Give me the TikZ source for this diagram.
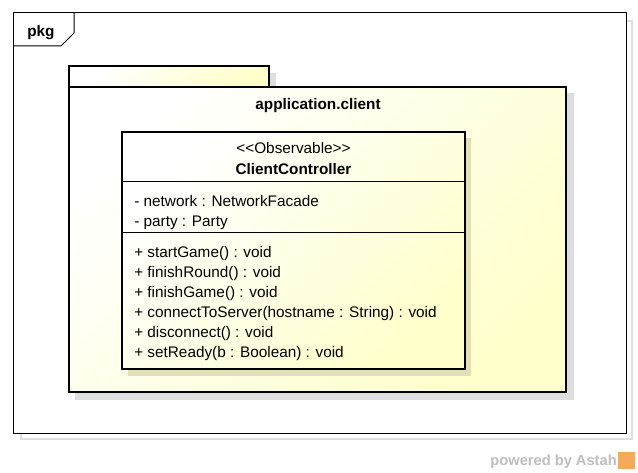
\documentclass[tikz,border=0pt]{standalone}
\usepackage{fontspec}
\setmainfont{Liberation Sans}
\begin{document}
\begin{tikzpicture}[x=0.75pt,y=-0.75pt,
  ylwshade/.style={top color=white, bottom color=ylw, shading angle=45},
  pkgline/.style={draw=black, line width=2.2pt},
  shadow/.style={fill=shadowgray, draw=none},
  txt/.style={font=\fontsize{11.5pt}{13pt}\selectfont, inner sep=0pt, anchor=base west},
  ttl/.style={font=\bfseries\fontsize{11.5pt}{13pt}\selectfont, inner sep=0pt, anchor=base}]
\definecolor{ylw}{RGB}{255,255,204}
\definecolor{shadowgray}{RGB}{222,222,222}
\definecolor{astahgray}{RGB}{190,190,190}
\definecolor{astahorange}{RGB}{245,170,90}
\useasboundingbox (0,0) rectangle (638,473);
\fill[white] (0,0) rectangle (638,473);
% frame
\draw[shadowgray, line width=0.9pt] (21,21) rectangle (632,439);
\fill[white] (13,13) rectangle (626,433);
\draw[black, line width=0.75pt] (13,13) rectangle (626,433);
\draw[black, line width=0.75pt] (13,46) -- (61,46) -- (74,33) -- (74,13);
\node[font=\bfseries\fontsize{11.5pt}{13pt}\selectfont, inner sep=0pt, anchor=base west] (pkglabel) at (27,37) {pkg};
% package shadow
\fill[shadow] (269,73) rectangle (276,87);
\fill[shadow] (75,93) rectangle (574,400);
% package tab and body
\shade[ylwshade] (69,66) rectangle (269,87);
\draw[pkgline] (69,87) -- (69,66) -- (269,66) -- (269,87);
\shade[ylwshade] (69,87) rectangle (566,392);
\draw[pkgline] (69,87) rectangle (566,392);
\node[ttl] (pkgname) at (318,110) {application.client};
% class shadow
\fill[fill=black!12!ylw] (128,138) rectangle (471,376);
\shade[ylwshade] (122,132) rectangle (465,369);
\draw[pkgline] (122,132) rectangle (465,369);
\draw[black, line width=0.75pt] (122,182) -- (465,182);
\draw[black, line width=0.75pt] (122,233) -- (465,233);
\node[font=\fontsize{11.5pt}{13pt}\selectfont, inner sep=0pt, anchor=base] (stereo) at (293.5,154) {<{}<Observable>{}>};
\node[ttl] (cname) at (293.5,175) {ClientController};
\node[txt] (a1) at (134,207) {- network : NetworkFacade};
\node[txt] (a2) at (134,227) {- party : Party};
\node[txt] (m1) at (134,258) {+ startGame() : void};
\node[txt] (m2) at (134,278) {+ finishRound() : void};
\node[txt] (m3) at (134,298) {+ finishGame() : void};
\node[txt] (m4) at (134,318) {+ connectToServer(hostname : String) : void};
\node[txt] (m5) at (134,338) {+ disconnect() : void};
\node[txt] (m6) at (134,358) {+ setReady(b : Boolean) : void};
% watermark
\node[font=\bfseries\fontsize{11pt}{13pt}\selectfont, text=astahgray, inner sep=0pt, anchor=base east] (wm) at (617,465) {powered by Astah};
\fill[astahorange] (618,452) rectangle (635,469);
\end{tikzpicture}
\end{document}
